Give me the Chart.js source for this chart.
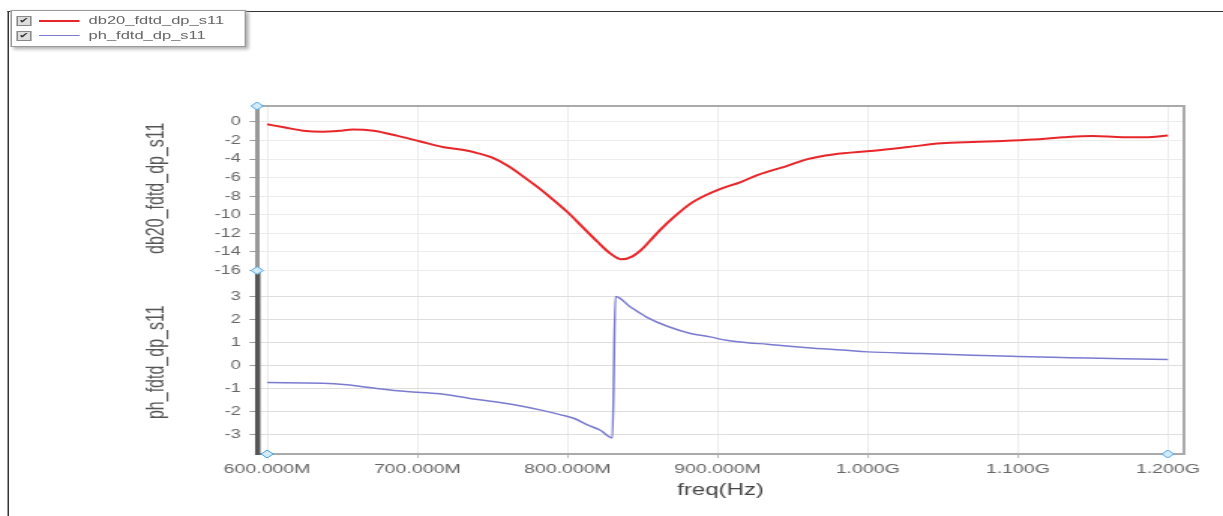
<!DOCTYPE html>
<html>
<head>
<meta charset="utf-8">
<script src="https://cdn.jsdelivr.net/npm/chart.js@4/dist/chart.umd.min.js"></script>
<style>
  body { margin: 0; background: #fff; overflow: hidden; }
  /* the reference picture is stretched sideways, so the whole drawing is too */
  #wrap { position: absolute; left: 0; top: 0; width: 815px; height: 516px; transform: scaleX(1.5006); transform-origin: 0 0; }
  #frame { position: absolute; left: 5px; top: 11px; right: 0; bottom: 0; border-top: 1px solid #333; border-left: 1px solid #333; }
  #chart { position: absolute; left: 0; top: 0; }
  #legend { position: absolute; left: 7px; top: 10px; width: 155px; height: 35px; background: #fff; border: 1px solid #999; box-shadow: 2px 2px 3px #aaa; font: 11px "Liberation Sans", Arial, sans-serif; color: #666; }
  .row { position: absolute; left: 0; height: 15px; line-height: 15px; white-space: nowrap; }
  .cb { position: absolute; left: 3px; top: 3px; width: 8px; height: 8px; border: 1px solid #888; background: #ddd; font-size: 8px; line-height: 8px; color: #333; text-align: center; }
  .ln { position: absolute; left: 18px; top: 7px; width: 27px; }
  .tx { position: absolute; left: 51px; top: 0; }
</style>
</head>
<body>
<div id="wrap">
  <div id="frame"></div>
  <canvas id="chart" width="815" height="516"></canvas>
  <div id="legend">
    <div class="row" style="top:2px"><span class="cb">✔</span><span class="ln" style="border-top:2px solid #e8262a"></span><span class="tx">db20_fdtd_dp_s11</span></div>
    <div class="row" style="top:17px"><span class="cb">✔</span><span class="ln" style="border-top:1px solid #7a7ad0"></span><span class="tx">ph_fdtd_dp_s11</span></div>
  </div>
</div>
<script>
// Frequency in MHz
const dbFreq = [600, 612, 624, 637, 648, 657, 671, 687, 702, 717, 730, 740, 750, 760, 770, 780, 790, 800, 810, 820, 828, 836, 843, 849, 855, 862, 872, 882, 892, 902, 915, 927, 945, 960, 977, 1004, 1027, 1049, 1070, 1090, 1110, 1130, 1150, 1170, 1185, 1200];
const dbValues = [-0.25, -0.6, -0.94, -1.05, -0.95, -0.8, -0.94, -1.5, -2.1, -2.7, -3.0, -3.35, -3.85, -4.7, -5.8, -7.0, -8.3, -9.7, -11.3, -12.9, -14.1, -14.8, -14.5, -13.8, -12.8, -11.6, -10.1, -8.8, -7.9, -7.2, -6.5, -5.7, -4.8, -4.0, -3.5, -3.1, -2.7, -2.3, -2.15, -2.05, -1.9, -1.65, -1.5, -1.65, -1.65, -1.45];

const phFreq = [600, 637, 653, 671, 693, 715, 735, 755, 769, 784, 795, 805, 813, 822, 830, 832, 842, 853, 867, 882, 895, 906, 920, 933, 950, 966, 983, 1000, 1035, 1070, 1100, 1135, 1170, 1200];
const phValues = [-0.73, -0.76, -0.83, -0.97, -1.12, -1.22, -1.42, -1.6, -1.75, -1.95, -2.12, -2.3, -2.56, -2.8, -3.13, 3.0, 2.55, 2.1, 1.7, 1.4, 1.25, 1.1, 1.0, 0.93, 0.83, 0.75, 0.68, 0.6, 0.53, 0.45, 0.4, 0.35, 0.3, 0.27];

const xTicks = [600, 700, 800, 900, 1000, 1100, 1200];
const dbTicks = [0, -2, -4, -6, -8, -10, -12, -14, -16];
const phTicks = [3, 2, 1, 0, -1, -2, -3];

const fontFamily = '"Liberation Sans", Arial, sans-serif';

function fmtFreq(v) {
	return v < 1000 ? v.toFixed(3) + 'M' : (v / 1000).toFixed(3) + 'G';
}

// Plot frame and the little blue cursor handles
const framePlugin = {
	id: 'frame',
	afterDraw(chart) {
		const { ctx, chartArea: a, scales } = chart;
		ctx.save();
		ctx.strokeStyle = '#aaa';
		ctx.lineWidth = 2;
		ctx.beginPath();
		ctx.moveTo(a.left, a.top);
		ctx.lineTo(a.right, a.top);
		ctx.lineTo(a.right, a.bottom);
		ctx.stroke();

		const handles = [
			[a.left, a.top],
			[a.left, scales.db.bottom],
			[scales.x.getPixelForValue(xTicks[0]), a.bottom],
			[scales.x.getPixelForValue(xTicks[xTicks.length - 1]), a.bottom],
		];
		ctx.fillStyle = '#d4ebfc';
		ctx.strokeStyle = '#4da3e6';
		ctx.lineWidth = 1;
		handles.forEach(([hx, hy]) => {
			ctx.beginPath();
			ctx.moveTo(hx - 4, hy);
			ctx.lineTo(hx, hy - 4);
			ctx.lineTo(hx + 4, hy);
			ctx.lineTo(hx, hy + 4);
			ctx.closePath();
			ctx.fill();
			ctx.stroke();
		});
		ctx.restore();
	},
};

!(function () {
	const ctx = document.getElementById('chart');

	new Chart(ctx, {
		type: 'line',
		data: {
			datasets: [
				{
					label: 'db20_fdtd_dp_s11',
					data: dbFreq.map((f, i) => ({ x: f, y: dbValues[i] })),
					yAxisID: 'db',
					borderColor: '#e8262a',
					borderWidth: 2,
					pointRadius: 0,
					cubicInterpolationMode: 'monotone',
				},
				{
					label: 'ph_fdtd_dp_s11',
					data: phFreq.map((f, i) => ({ x: f, y: phValues[i] })),
					yAxisID: 'ph',
					borderColor: '#7a7ad0',
					borderWidth: 1.5,
					pointRadius: 0,
					cubicInterpolationMode: 'monotone',
				},
			],
		},
		options: {
			responsive: false,
			animation: false,
			layout: {
				padding: { top: 106, left: 80, right: 26, bottom: 0 },
			},
			scales: {
				x: {
					type: 'linear',
					min: 593.3,
					max: 1210.7,
					afterBuildTicks: (s) => { s.ticks = xTicks.map((v) => ({ value: v })); },
					afterFit: (s) => { s.height = 62; },
					ticks: {
						callback: fmtFreq,
						color: '#666',
						font: { family: fontFamily, size: 13 },
						padding: 4,
						maxRotation: 0,
						autoSkip: false,
					},
					grid: { color: '#ececec', tickColor: '#bbb', tickLength: 4 },
					border: { color: '#aaa', width: 2 },
					title: {
						display: true,
						text: 'freq(Hz)',
						color: '#444',
						font: { family: fontFamily, size: 16 },
						padding: { top: 0, bottom: 16 },
					},
				},
				ph: {
					position: 'left',
					stack: 'plots',
					stackWeight: 183.5,
					min: -3.83,
					max: 4.13,
					afterBuildTicks: (s) => { s.ticks = phTicks.map((v) => ({ value: v })); },
					afterFit: (s) => { s.width = 91.3; },
					ticks: { color: '#666', font: { family: fontFamily, size: 12 }, padding: 6, autoSkip: false },
					grid: { color: '#dedede', tickColor: '#999', tickLength: 5 },
					border: { color: '#555', width: 3.5 },
					title: {
						display: true,
						text: 'ph_fdtd_dp_s11',
						color: '#555',
						font: { family: fontFamily, size: 16 },
						padding: { top: 15, bottom: 0 },
					},
				},
				db: {
					position: 'left',
					stack: 'plots',
					stackWeight: 164.5,
					min: -16,
					max: 1.72,
					afterBuildTicks: (s) => { s.ticks = dbTicks.map((v) => ({ value: v })); },
					afterFit: (s) => { s.width = 91.3; },
					ticks: { color: '#666', font: { family: fontFamily, size: 12 }, padding: 6, autoSkip: false },
					grid: { color: '#ececec', tickColor: '#999', tickLength: 5 },
					border: { color: '#999', width: 3 },
					title: {
						display: true,
						text: 'db20_fdtd_dp_s11',
						color: '#555',
						font: { family: fontFamily, size: 16 },
						padding: { top: 15, bottom: 0 },
					},
				},
			},
			plugins: {
				legend: { display: false },
				tooltip: { enabled: false },
			},
		},
		plugins: [framePlugin],
	});
})();
</script>
</body>
</html>
